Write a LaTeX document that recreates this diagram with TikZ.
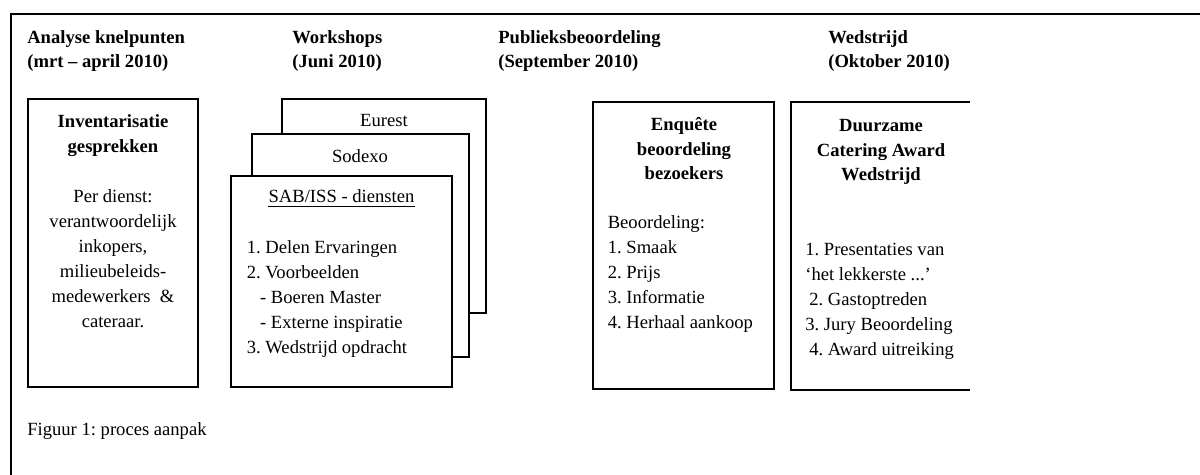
\documentclass[tikz,border=0pt]{standalone}
\usepackage{fontspec}
\setmainfont{Liberation Serif}
\frenchspacing

\begin{document}
\begin{tikzpicture}[x=0.645pt, y=-0.645pt,
                    every node/.style={inner sep=0pt, font=\fontsize{12}{16.1}\selectfont},
                    kader/.style={draw=black, line width=0.8pt},
                    kop/.style={font=\fontsize{12}{16.1}\selectfont\bfseries, align=left, anchor=base west},
                    titel/.style={font=\fontsize{12}{16.1}\selectfont\bfseries, align=center, anchor=base},
                    lijst/.style={align=left, anchor=base west}]

  %% vaste maat van de pagina
  \useasboundingbox (0,0) rectangle (1200,475);

  %% buitenkader (alleen links en boven)
  \draw[line width=1pt] (11,475) -- (11,14) -- (1200,14);

  %% koppen van de vier fasen (ankers op de onderste regel)
  \node[kop] (fase1) at (27,68)  {Analyse knelpunten\\(mrt -- april 2010)};
  \node[kop] (fase2) at (292,68) {Workshops\\(Juni 2010)};
  \node[kop] (fase3) at (498,68) {Publieksbeoordeling\\(September 2010)};
  \node[kop] (fase4) at (828,68) {Wedstrijd\\(Oktober 2010)};

  %% fase 1: inventarisatie
  \draw[kader] (28,99) rectangle (198,387);
  \node[titel] (invkop) at (113,152) {Inventarisatie\\gesprekken};
  \node[align=center, anchor=base] (invtekst) at (113,327)
    {Per dienst:\\verantwoordelijk\\inkopers,\\milieubeleids-\\medewerkers~~\&\\cateraar.};

  %% fase 2: drie gestapelde workshops
  \draw[kader, fill=white] (282,99) rectangle (486,313);
  \node[anchor=base] (eurest) at (384,127) {Eurest};
  \draw[kader, fill=white] (252,134) rectangle (469,357);
  \node[anchor=base] (sodexo) at (360,162) {Sodexo};
  \draw[kader, fill=white] (231,176) rectangle (452,387);
  \node[anchor=base] (sabkop) at (341.5,203) {SAB/ISS - diensten};
  \draw[line width=0.5pt] ([yshift=-1.9pt]sabkop.base west) -- ([yshift=-1.9pt]sabkop.base east);
  \node[lijst] (sablijst) at (246.5,353)
    {1. Delen Ervaringen\\2. Voorbeelden\\\hspace*{8.6pt}- Boeren Master\\\hspace*{8.6pt}- Externe inspiratie\\3. Wedstrijd opdracht};

  %% fase 3: enquete
  \draw[kader] (593,102) rectangle (774,389);
  \node[titel] (enqkop) at (684,180) {Enquête\\beoordeling\\bezoekers};
  \node[lijst] (enqlijst) at (607.5,328)
    {Beoordeling:\\1. Smaak\\2. Prijs\\3. Informatie\\4. Herhaal aankoop};

  %% fase 4: wedstrijd (rechterzijde valt weg)
  \draw[kader] (970,102) -- (791,102) -- (791,390) -- (970,390);
  \node[titel] (wedkop) at (881,181) {Duurzame\\Catering Award\\Wedstrijd};
  \node[lijst] (wedlijst) at (805,355)
    {1. Presentaties van\\‘het lekkerste ...’\\\hspace*{2.6pt}2. Gastoptreden\\3. Jury Beoordeling\\\hspace*{2.6pt}4. Award uitreiking};

  %% bijschrift
  \node[anchor=base west] (bijschrift) at (27,435) {Figuur 1: proces aanpak};

\end{tikzpicture}
\end{document}
